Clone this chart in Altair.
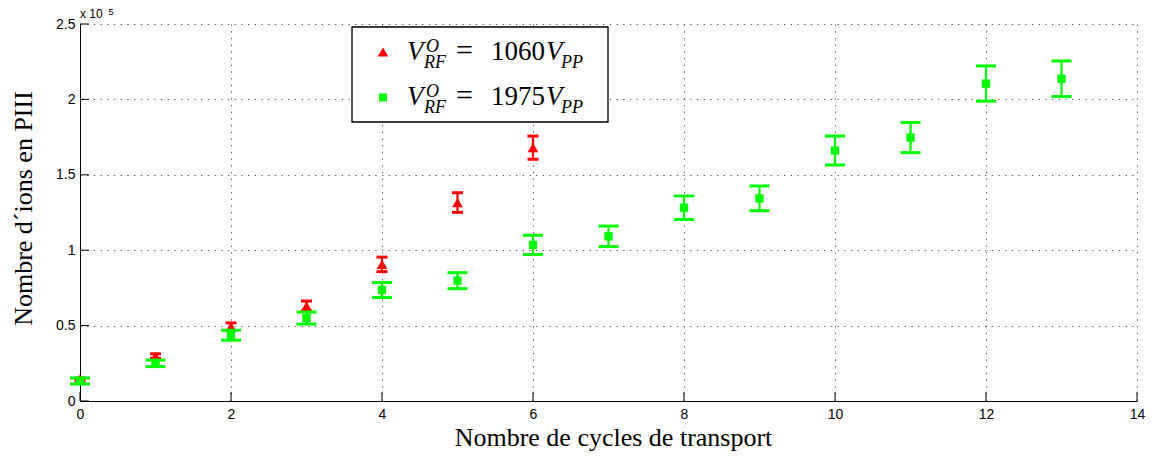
import altair as alt
import pandas as pd

# ---- data ----
cycles_red = [0, 1, 2, 3, 4, 5, 6]
ions_red = [14500, 29800, 49300, 63000, 90600, 131600, 168000]
err_red = [800, 1500, 2500, 3300, 4800, 6500, 7700]

cycles_green = [0, 1, 2, 3, 4, 5, 6, 7, 8, 9, 10, 11, 12, 13]
ions_green = [13300, 25000, 43600, 55000, 73600, 79800, 103500, 109200,
              128200, 134400, 166100, 174700, 210500, 213700]
err_green = [2000, 2200, 3300, 4000, 5000, 5300, 6400, 6800,
             7800, 8200, 9600, 10000, 11700, 11800]

series_names = ["1060", "1975"]
x_ticks = [0, 2, 4, 6, 8, 10, 12, 14]
y_ticks = [0, 50000, 100000, 150000, 200000, 250000]

RED = "#ff0000"
GREEN = "#00ff00"
SERIF = "Liberation Serif"
SANS = "Liberation Sans"
W, H = 1057, 377

red = pd.DataFrame({"x": cycles_red, "y": ions_red,
                    "lo": [v - e for v, e in zip(ions_red, err_red)],
                    "hi": [v + e for v, e in zip(ions_red, err_red)]})
green = pd.DataFrame({"x": cycles_green, "y": ions_green,
                      "lo": [v - e for v, e in zip(ions_green, err_green)],
                      "hi": [v + e for v, e in zip(ions_green, err_green)]})

xs = alt.Scale(domain=[0, 14], nice=False, zero=False)
ys = alt.Scale(domain=[0, 250000], nice=False)

grid_common = dict(grid=True, gridColor="#555555", gridDash=[1.3, 5.4], gridWidth=1,
                   domainColor="#000000", domainWidth=1, ticks=False, tickSize=0,
                   labelFont=SANS, labelFontSize=14, labelColor="#000000",
                   titleFont=SERIF, titleFontSize=26, titleFontWeight="normal",
                   titleColor="#000000")

x_axis = alt.Axis(values=x_ticks, labelPadding=6, title="Nombre de cycles de transport",
                  titleX=533, titleY=44, titleBaseline="alphabetic", titleAlign="center",
                  labelFlush=False, **grid_common)
y_axis = alt.Axis(values=y_ticks, labelPadding=5, labelExpr="datum.value / 100000",
                  title="Nombre d\u00b4ions en PIII", titleAngle=-90, titleX=-57,
                  titleY=184, titleAlign="center", titleBaseline="middle",
                  labelFlush=False, **grid_common)

X = lambda f: alt.X(f, scale=xs, axis=x_axis)
Y = lambda f: alt.Y(f, scale=ys, axis=y_axis)


def series(df, color, shape, size, cap):
    base = alt.Chart(df)
    bar = base.mark_rule(color=color, strokeWidth=2.2, opacity=1).encode(
        x=X("x:Q"), y=Y("lo:Q"), y2="hi:Q")
    cap_lo = base.mark_tick(color=color, orient="horizontal", size=cap, thickness=3, opacity=1).encode(
        x=X("x:Q"), y=Y("lo:Q"))
    cap_hi = base.mark_tick(color=color, orient="horizontal", size=cap, thickness=3, opacity=1).encode(
        x=X("x:Q"), y=Y("hi:Q"))
    pt = base.mark_point(shape=shape, filled=True, color=color, opacity=1, size=size).encode(
        x=X("x:Q"), y=Y("y:Q"))
    return [bar, cap_lo, cap_hi, pt]


one = pd.DataFrame({"k": [0]})

# inward ticks
xt = alt.Chart(pd.DataFrame({"x": x_ticks})).mark_rule(color="black", strokeWidth=1).encode(
    x=X("x:Q"), y=alt.value(H), y2=alt.value(H - 9))
yt = alt.Chart(pd.DataFrame({"y": y_ticks})).mark_rule(color="black", strokeWidth=1).encode(
    y=Y("y:Q"), x=alt.value(0), x2=alt.value(9))


def txt(s, x, y, size, italic=False, font=SERIF):
    return alt.Chart(one).mark_text(text=s, fontSize=size, font=font,
                                    fontStyle="italic" if italic else "normal",
                                    align="left", baseline="alphabetic", color="black").encode(
        x=alt.value(x), y=alt.value(y))


exp_label = [txt("x 10", 0, -6, 12, font=SANS), txt("5", 28.5, -9.5, 9, font=SANS)]

legend_box = alt.Chart(one).mark_rect(fill="white", stroke="black", strokeWidth=1.3).encode(
    x=alt.value(272), x2=alt.value(528), y=alt.value(3), y2=alt.value(98))
leg_marks = [
    alt.Chart(one).mark_point(shape="triangle-up", filled=True, color=RED, opacity=1, size=110).encode(
        x=alt.value(303), y=alt.value(28)),
    alt.Chart(one).mark_point(shape="square", filled=True, color=GREEN, opacity=1, size=64).encode(
        x=alt.value(303), y=alt.value(73.5)),
]
leg_text = []
for i, name in enumerate(series_names):
    b = 35.5 + 45.7 * i
    leg_text += [
        txt("V", 327, b, 27, italic=True),
        txt("O", 346, b - 8, 18, italic=True),
        txt("RF", 344, b + 8, 18, italic=True),
        txt("=", 376, b, 30),
        txt(name, 411, b, 27),
        txt("V", 466, b, 27, italic=True),
        txt("PP", 481, b + 8, 18, italic=True),
    ]

layers = (series(red, RED, "triangle-up", 115, 11)
          + series(green, GREEN, "square", 70, 20)
          + [xt, yt] + exp_label + [legend_box] + leg_marks + leg_text)

chart = alt.layer(*layers).properties(
    width=W, height=H,
    autosize=alt.AutoSizeParams(type="none"),
    padding={"left": 72, "top": 16, "right": 12, "bottom": 55},
).configure(background="white").configure_view(stroke=None)

chart.save("out.html", embed_options={"renderer": "svg", "actions": False})
